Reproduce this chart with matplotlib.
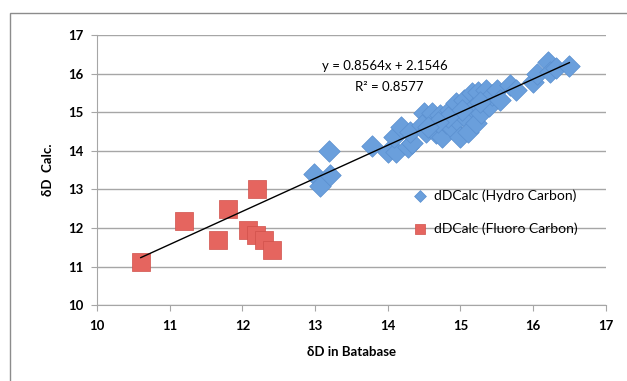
import matplotlib.pyplot as plt
from matplotlib.patches import Rectangle

# =========================
# Data
# =========================
hydro_x = [12.99, 13.07, 13.20, 13.19, 13.79, 14.00, 14.11, 14.08, 14.18, 14.28,
           14.33, 14.30, 14.50, 14.47, 14.52, 14.61, 14.63, 14.66, 14.72, 14.74,
           14.80, 14.85, 14.88, 14.94, 14.96, 14.99, 15.05, 15.07, 15.10, 15.16,
           15.18, 15.21, 15.24, 15.29, 15.32, 15.35, 15.40, 15.43, 15.51, 15.54,
           15.68, 15.76, 16.00, 16.06, 16.20, 16.23, 16.31, 16.50, 15.27, 15.02,
           14.83, 14.69, 14.55]
hydro_y = [13.41, 13.09, 13.37, 14.00, 14.13, 13.98, 13.98, 14.36, 14.62, 14.10,
           14.19, 14.50, 14.97, 14.67, 14.50, 14.97, 14.62, 14.45, 14.93, 14.36,
           14.71, 15.06, 14.58, 15.23, 14.80, 14.36, 15.32, 14.88, 14.50, 15.49,
           15.10, 14.71, 15.53, 14.97, 15.32, 15.58, 15.15, 15.45, 15.58, 15.32,
           15.70, 15.58, 15.79, 16.00, 16.31, 16.05, 16.14, 16.20, 15.27, 15.06,
           14.88, 14.75, 14.62]

fluoro_x = [10.60, 11.20, 11.67, 11.80, 12.20, 12.08, 12.19, 12.30, 12.40]
fluoro_y = [11.12, 12.18, 11.69, 12.48, 13.02, 11.94, 11.81, 11.70, 11.44]

# linear trendline shown on the chart
SLOPE = 0.8564
INTERCEPT = 2.1546
R2 = 0.8577
TREND_X = [10.6, 16.5]

X_TICKS = [10, 11, 12, 13, 14, 15, 16, 17]
Y_TICKS = [10, 11, 12, 13, 14, 15, 16, 17]

BLUE = "#6a9fdc"
RED = "#e5655f"
GRID = "#a6a6a6"

plt.rcParams["font.family"] = ["Lato", "DejaVu Sans"]

fig = plt.figure(figsize=(6.27, 3.81), dpi=100)
ax = fig.add_axes([0.155, 0.199, 0.811, 0.709])

# outer chart frame
fig.patches.append(Rectangle((10 / 627, -0.1), 1.1, 1 - 13 / 381 + 0.1,
                             transform=fig.transFigure, fill=False,
                             edgecolor="#8c8c8c", linewidth=1.0))

ax.scatter(hydro_x, hydro_y, marker="D", s=120, color=BLUE,
           edgecolor="#5a8fcf", linewidth=0.5, zorder=3,
           label="dDCalc (Hydro Carbon)")
ax.scatter(fluoro_x, fluoro_y, marker="s", s=170, color=RED,
           edgecolor="#d0504a", linewidth=0.5, zorder=3,
           label="dDCalc (Fluoro Carbon)")

trend_y = [SLOPE * x + INTERCEPT for x in TREND_X]
ax.plot(TREND_X, trend_y, color="black", linewidth=1.0, zorder=4)

ax.text(13.1, 16.2, f"y = {SLOPE}x + {INTERCEPT}", fontsize=9.5,
        ha="left", va="center")
ax.text(13.55, 15.65, f"R² = {R2}", fontsize=9.5, ha="left", va="center")

ax.tick_params(axis="both", colors=GRID, length=4, labelsize=9.5,
               labelcolor="black")
ax.tick_params(axis="x", pad=7)
ax.tick_params(axis="y", pad=6)

ax.set_xlim(10, 17)
ax.set_ylim(10, 17)
ax.set_xticks(X_TICKS)
ax.set_yticks(Y_TICKS)
for lbl in ax.get_xticklabels() + ax.get_yticklabels():
    lbl.set_fontweight("bold")
ax.yaxis.grid(True, color=GRID, linewidth=1.0)
ax.set_axisbelow(True)

for side in ["top", "right"]:
    ax.spines[side].set_visible(False)
for side in ["left", "bottom"]:
    ax.spines[side].set_color(GRID)

ax.set_xlabel("δD in Batabase", fontsize=9.5, fontweight="bold", labelpad=10)
ax.set_ylabel("δD  Calc.", fontsize=9.5, fontweight="bold", labelpad=10)

ax.legend(loc="center left", bbox_to_anchor=(0.597, 0.345), frameon=False,
          fontsize=10, handletextpad=0.0, labelspacing=1.5,
          markerscale=0.55, borderaxespad=0)

fig.savefig("out.png", dpi=100)
